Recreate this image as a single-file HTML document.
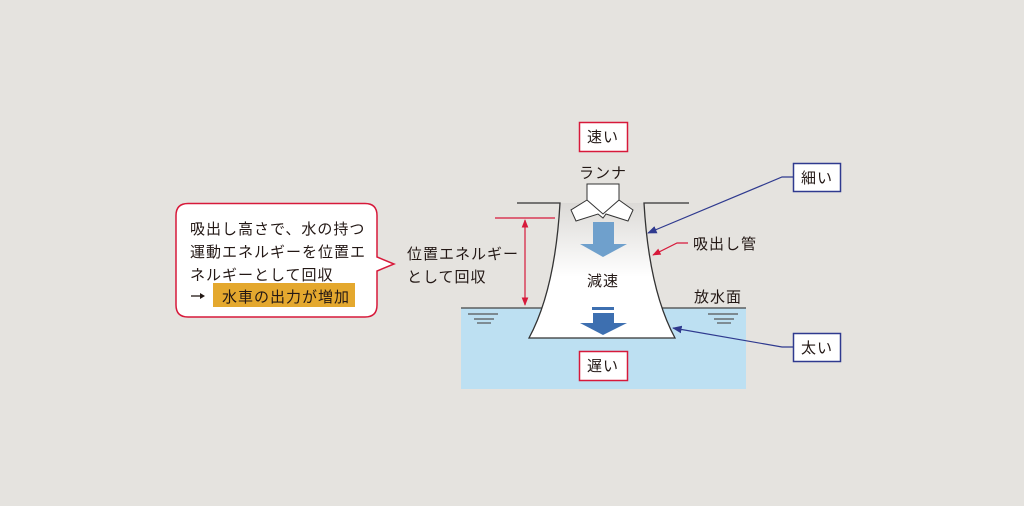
<!DOCTYPE html>
<html><head><meta charset="utf-8"><style>
body{margin:0;background:#e5e3df;}
svg{display:block}
text{font-family:"Liberation Sans","Noto Sans CJK JP",sans-serif;font-size:15px;fill:#231815;letter-spacing:1px}
</style></head><body>
<svg width="1024" height="506" viewBox="0 0 1024 506">
<defs>
<linearGradient id="g" x1="0" y1="0" x2="0" y2="1">
<stop offset="0" stop-color="#dcdad7"/><stop offset="0.55" stop-color="#ffffff"/><stop offset="1" stop-color="#ffffff"/>
</linearGradient>
<marker id="ar" viewBox="0 0 10 10" refX="9" refY="5" markerWidth="7" markerHeight="7" orient="auto-start-reverse"><path d="M0,1 L10,5 L0,9z" fill="#d7193a"/></marker>
<marker id="ab" viewBox="0 0 10 10" refX="9" refY="5" markerWidth="8" markerHeight="8" orient="auto"><path d="M0,1 L10,5 L0,9z" fill="#2f3a8f"/></marker>
</defs>
<rect x="461" y="308" width="285" height="81" fill="#bde0f2"/>
<line x1="461" y1="308" x2="746" y2="308" stroke="#444" stroke-width="1.2"/>
<g stroke="#555" stroke-width="1.2">
<line x1="468" y1="314" x2="498" y2="314"/><line x1="474" y1="319" x2="494" y2="319"/><line x1="477" y1="323" x2="491" y2="323"/>
<line x1="708" y1="314" x2="738" y2="314"/><line x1="714" y1="319" x2="734" y2="319"/><line x1="717" y1="323" x2="731" y2="323"/>
</g>
<path d="M560,203 Q555,290 529,338 L675,338 Q649,290 644,203 Z" fill="url(#g)"/>
<path d="M517,203 L560,203 Q555,290 529,338 L675,338 Q649,290 644,203 L689,203" fill="none" stroke="#333" stroke-width="1.3"/>
<path d="M587,184 L619,184 L619,200 L633,210 L628,221 L606,214 L603,218 L598,214 L576,221 L571,210 L587,200 Z" fill="#fff" stroke="#333" stroke-width="1"/>
<path d="M587,200 L603,214 L619,200" fill="none" stroke="#333" stroke-width="1"/>
<path d="M593,222 L614,222 L614,244 L627,244 L603,257 L580,244 L593,244 Z" fill="#6fa0cc"/>
<rect x="592" y="307" width="22" height="3" fill="#3d6fb0"/>
<path d="M593,313 L614,313 L614,323 L627,323 L603,335 L580,323 L593,323 Z" fill="#3d6fb0"/>
<text x="603" y="286" text-anchor="middle">減速</text>
<text x="603" y="178" text-anchor="middle">ランナ</text>
<rect x="579.5" y="122.5" width="48" height="29" fill="#fff" stroke="#d7193a" stroke-width="1.5"/>
<text x="603" y="142" text-anchor="middle">速い</text>
<rect x="579.5" y="351.5" width="48" height="29" fill="#fff" stroke="#d7193a" stroke-width="1.5"/>
<text x="603" y="371" text-anchor="middle">遅い</text>
<line x1="495" y1="218" x2="555" y2="218" stroke="#d7193a" stroke-width="1.2"/>
<line x1="525" y1="220" x2="525" y2="305" stroke="#d7193a" stroke-width="1.2" marker-start="url(#ar)" marker-end="url(#ar)"/>
<rect x="793.5" y="163.5" width="47" height="28" fill="#fff" stroke="#2f3a8f" stroke-width="1.5"/>
<text x="817" y="183" text-anchor="middle">細い</text>
<rect x="793.5" y="333.5" width="47" height="28" fill="#fff" stroke="#2f3a8f" stroke-width="1.5"/>
<text x="817" y="353" text-anchor="middle">太い</text>
<polyline points="793,177 782,177 648,233" fill="none" stroke="#2f3a8f" stroke-width="1.2" marker-end="url(#ab)"/>
<polyline points="793,347 782,347 673,328" fill="none" stroke="#2f3a8f" stroke-width="1.2" marker-end="url(#ab)"/>
<polyline points="688,243 677,243 653,255" fill="none" stroke="#d7193a" stroke-width="1.2" marker-end="url(#ar)"/>
<text x="693" y="249">吸出し管</text>
<text x="694" y="302">放水面</text>
<text x="407" y="259">位置エネルギー</text>
<text x="407" y="282">として回収</text>
<path d="M188,203.5 L365,203.5 Q377,203.5 377,215.5 L377,257 L394,264 L377,271 L377,305 Q377,317 365,317 L188,317 Q176,317 176,305 L176,215.5 Q176,203.5 188,203.5 Z" fill="#fff" stroke="#d7193a" stroke-width="1.5"/>
<text x="190" y="234">吸出し高さで、水の持つ</text>
<text x="190" y="257">運動エネルギーを位置エ</text>
<text x="190" y="280">ネルギーとして回収</text>
<line x1="191" y1="296" x2="203" y2="296" stroke="#231815" stroke-width="1.3"/>
<path d="M200,293 L205,296 L200,299z" fill="#231815"/>
<rect x="213" y="283" width="142" height="24" fill="#e4a82e"/>
<text x="222" y="302">水車の出力が増加</text>
</svg>
</body></html>
